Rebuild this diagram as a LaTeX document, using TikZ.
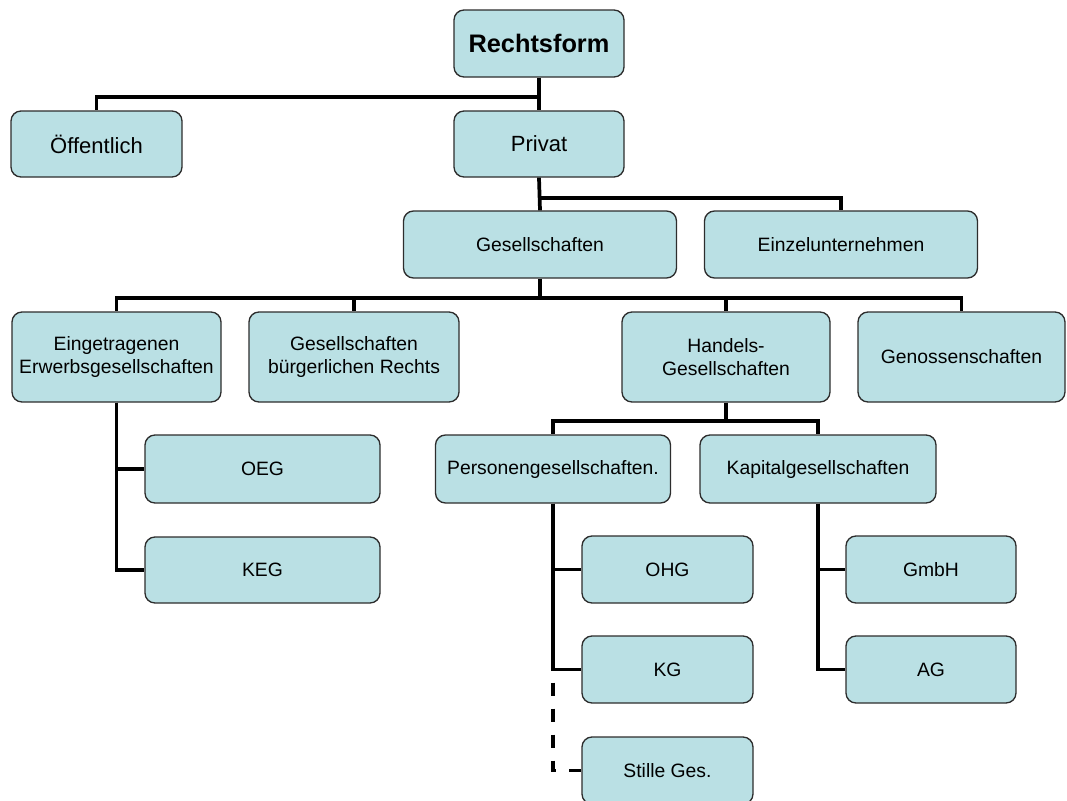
\documentclass[tikz,border=0pt]{standalone}
\usepackage{fontspec}
\setmainfont{Liberation Sans}
\definecolor{boxfill}{RGB}{186,224,228}
\definecolor{boxline}{RGB}{45,45,45}
\tikzset{
  org/.style 2 args={draw=boxline, line width=1pt, fill=boxfill, rounded corners=7.5pt,
    minimum width=#1*0.75pt, minimum height=#2*0.75pt, inner sep=0pt, align=center,
    font=\fontsize{14.5}{17}\selectfont},
  conn/.style={line width=2.8pt},
  stilleconn/.style={conn, dash pattern=on 9.75pt off 9.75pt, dash phase=9.75pt},
}
\begin{document}
\begin{tikzpicture}[x=0.75pt, y=-0.75pt]
  \useasboundingbox (0,0) rectangle (1067,800);
  % top
  \node[org={170}{67}, font=\fontsize{19}{22}\selectfont\bfseries] (rf) at (539,43.5) {Rechtsform};
  \node[org={171}{66}, font=\fontsize{16.5}{19}\selectfont] (oeff) at (96.5,144) {Öffentlich};
  \node[org={170}{66}, font=\fontsize{16.5}{19}\selectfont] (priv) at (539,144) {Privat};
  \node[org={273}{67}] (ges) at (540,244.5) {Gesellschaften};
  \node[org={273}{67}] (einz) at (841,244.5) {Einzelunternehmen};
  % gesellschaften
  \node[org={209}{90}] (eg) at (116.5,357) {Eingetragenen\\Erwerbsgesellschaften};
  \node[org={210}{90}] (gbr) at (354,357) {Gesellschaften\\bürgerlichen Rechts};
  \node[org={208}{90}] (hg) at (726,357) {Handels-\\Gesellschaften};
  \node[org={207}{90}] (gen) at (961.5,357) {Genossenschaften};
  \node[org={235}{68}] (oeg) at (262.5,469) {OEG};
  \node[org={235}{66}] (keg) at (262.5,570) {KEG};
  % handelsgesellschaften
  \node[org={235}{68}] (pg) at (553,469) {Personengesellschaften.};
  \node[org={236}{68}] (kapg) at (818,469) {Kapitalgesellschaften};
  \node[org={171}{67}] (ohg) at (667.5,569.5) {OHG};
  \node[org={171}{67}] (kg) at (667.5,669.5) {KG};
  \node[org={171}{67}] (stille) at (667.5,770.5) {Stille Ges.};
  \node[org={170}{67}] (gmbh) at (931,569.5) {GmbH};
  \node[org={170}{67}] (ag) at (931,669.5) {AG};

  \draw[conn] (rf.south) -- (priv.north);
  \draw[conn] (rf.south) ++(0,19) -| (oeff.north);
  \draw[conn] (priv.south) -- (ges.north);
  \draw[conn] (priv.south) ++(0,20) -| (einz.north);
  \draw[conn] (ges.south) -- ++(0,19) coordinate (gbar);
  \foreach \n in {eg,gbr,hg,gen}
    \draw[conn] (gbar) -| (\n.north);
  \draw[conn] (eg.south) |- (oeg.west);
  \draw[conn] (eg.south) |- (keg.west);
  \draw[conn] (hg.south) -- ++(0,18) coordinate (hbar);
  \foreach \n in {pg,kapg}
    \draw[conn] (hbar) -| (\n.north);
  \draw[conn] (pg.south) |- (ohg.west);
  \draw[conn] (pg.south) |- (kg.west);
  \draw[stilleconn] (pg.south |- kg.west) |- (stille.west);
  \draw[conn] (kapg.south) |- (gmbh.west);
  \draw[conn] (kapg.south) |- (ag.west);
\end{tikzpicture}
\end{document}
